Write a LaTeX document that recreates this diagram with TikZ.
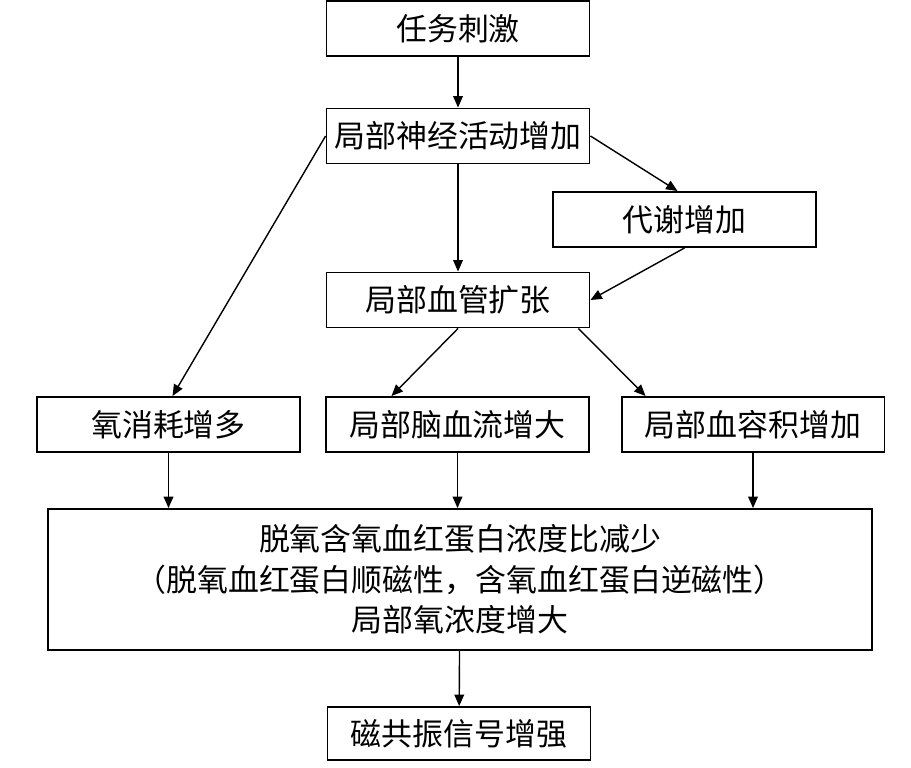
\documentclass[tikz,border=0pt]{standalone}
\usepackage{fontspec}
\newfontfamily\cjk{Noto Sans CJK SC}
\usetikzlibrary{arrows.meta,calc}
\tikzset{
  box/.style={draw, line width=1.1pt, inner sep=0pt, minimum width=5.26cm,
    minimum height=1.1cm, font=\cjk\fontsize{17.6}{23}\selectfont},
  flow/.style={line width=0.8pt, -{Triangle[length=6.5pt,width=5.5pt]}}
}
\begin{document}
\begin{tikzpicture}[x=0.02cm, y=-0.02cm]
  \useasboundingbox[fill=white] (0,0) rectangle (911,767);
  \node[box] (task) at (458,28.5) {任务刺激};
  \node[box] (neural) at (458,136) {局部神经活动增加};
  \node[box] (metab) at (684.5,219.5) {代谢增加};
  \node[box] (vessel) at (458,300) {局部血管扩张};
  \node[box] (oxy) at (168.5,424.5) {氧消耗增多};
  \node[box] (blood) at (457.5,424.5) {局部脑血流增大};
  \node[box] (volume) at (753,424.5) {局部血容积增加};
  \node[box, minimum width=16.48cm, minimum height=2.82cm, align=center] (ratio) at (460,579.5)
    {脱氧含氧血红蛋白浓度比减少\\（脱氧血红蛋白顺磁性，含氧血红蛋白逆磁性）\\局部氧浓度增大};
  \node[box, minimum height=1.06cm] (signal) at (459,733.5) {磁共振信号增强};

  \draw[flow] (task) -- (neural);
  \draw[flow] (neural) -- (vessel);
  \draw[flow] (neural.east) -- ($(metab.north)+(-7,0)$);
  \draw[flow] (metab.south) -- (vessel.east);
  \draw[flow] (neural.west) -- ($(oxy.north)+(4,0)$);
  \draw[flow] (vessel.south) -- ($(blood.north)+(-66,0)$);
  \draw[flow] ($(vessel.south east)+(-12,0)$) -- ($(volume.north west)+(25,0)$);
  \draw[flow] (oxy.south) -- (oxy.south |- ratio.north);
  \draw[flow] (blood.south) -- (blood.south |- ratio.north);
  \draw[flow] (volume.south) -- (volume.south |- ratio.north);
  \draw[flow] (ratio) -- (signal);
\end{tikzpicture}
\end{document}
